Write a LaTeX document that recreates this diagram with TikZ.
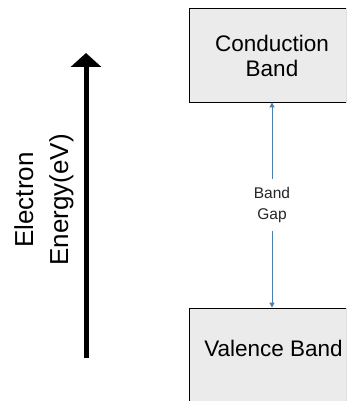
\documentclass[tikz,border=0pt]{standalone}
\usepackage{fontspec}
\setmainfont{Liberation Sans}
\usetikzlibrary{arrows.meta,calc}
\definecolor{bandfill}{HTML}{EBEBEB}
\definecolor{gapblue}{HTML}{4A7EAB}
\begin{document}
\begin{tikzpicture}[x=1pt,y=-1pt,
  band/.style={draw=black, line width=0.9pt, fill=bandfill, minimum width=157pt, inner sep=0pt},
  bandtext/.style={align=center, inner sep=0pt, font=\fontsize{22.5}{25}\selectfont},
  gaparrow/.style={draw=gapblue, line width=1pt, {Triangle[width=5pt,length=5pt]}-{Triangle[width=5pt,length=5pt]}},
  energyaxis/.style={draw=black, line width=5pt, -{Triangle[width=30pt,length=14pt]}}]
  \useasboundingbox (0,0) rectangle (346,401);
  \begin{scope}
    \clip (0,0) rectangle (346,401);
    % energy bands
    \node[band, minimum height=94pt] (cb) at (267.5,55) {};
    \node[band, minimum height=110pt] (vb) at (267.5,363) {};
  \end{scope}
  \node[bandtext] (cbl) at (272,56) {Conduction\\Band};
  \node[bandtext] (vbl) at (273.5,348) {Valence Band};
  % band gap
  \coordinate (gtop) at ($(cb.south)+(4.5,0)$);
  \coordinate (gbot) at (gtop |- vb.north);
  \draw[gaparrow] (gbot) -- node[fill=white, inner sep=0pt, minimum height=52pt, align=center, text=black!85, font=\fontsize{15.5}{21}\selectfont] (gap) {Band\\Gap} (gtop);
  % energy axis
  \coordinate (ebot) at (86,358);
  \coordinate (etop) at (86,53);
  \draw[energyaxis] (ebot) -- (etop);
  \node[rotate=90, align=center, font=\fontsize{26}{35}\selectfont] (elabel) at (44,200) {Electron\\Energy(eV)};
\end{tikzpicture}
\end{document}
